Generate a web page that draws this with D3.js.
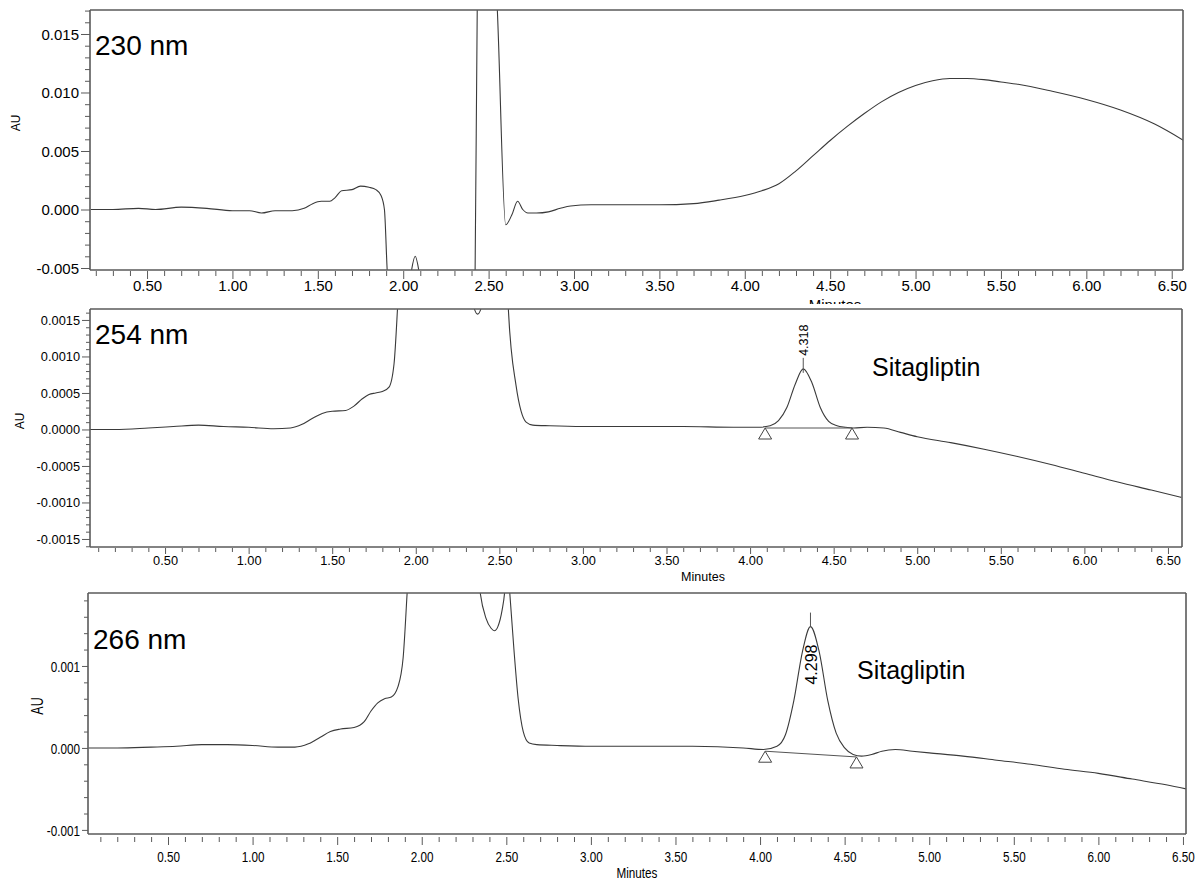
<!DOCTYPE html>
<html><head><meta charset="utf-8">
<script src="https://cdn.jsdelivr.net/npm/d3@7"></script>
<style>
body{margin:0;background:#fff}
svg{display:block}
text{font-family:"Liberation Sans",Arial,Helvetica,sans-serif;fill:#000}
</style>
</head><body>
<svg id="c" width="1200" height="882"></svg>
<script>
// ---------------- DATA ----------------
// 230 nm trace (time in minutes, absorbance in AU)
const time230 = [0.17,0.30,0.45,0.55,0.70,0.85,1.00,1.10,1.17,1.25,1.35,1.42,1.47,1.52,1.57,1.60,1.64,1.70,1.75,1.80,1.84,1.87,1.89,1.91,1.95,2.02,2.045,2.07,2.095,2.12,2.20,2.35,2.42,2.435,2.50,2.548,2.60,2.635,2.67,2.70,2.73,2.78,2.85,2.92,2.98,3.10,3.30,3.50,3.70,3.85,4.00,4.10,4.20,4.30,4.40,4.50,4.60,4.70,4.80,4.90,5.00,5.10,5.20,5.30,5.40,5.50,5.60,5.80,6.00,6.20,6.40,6.57];
const au230 = [0.0000,0.0000,0.0001,0.0000,0.0002,0.0001,-0.0001,-0.0001,-0.0003,-0.0001,-0.0001,0.0001,0.0005,0.0007,0.0007,0.0010,0.0016,0.0017,0.0020,0.0019,0.0017,0.0012,0.0000,-0.0060,-0.0080,-0.0080,-0.0055,-0.0040,-0.0055,-0.0080,-0.0080,-0.0080,-0.0070,0.0200,0.0250,0.0180,-0.0013,-0.0005,0.0007,0.0000,-0.0003,-0.0003,-0.0002,0.0001,0.0003,0.0004,0.0004,0.0004,0.0005,0.0008,0.0012,0.0016,0.0022,0.0033,0.0046,0.0059,0.0071,0.0082,0.0092,0.0100,0.0106,0.0110,0.0112,0.0112,0.0111,0.0109,0.0107,0.0101,0.0094,0.0085,0.0073,0.0059];

// 254 nm trace
const time254 = [0.05,0.20,0.40,0.55,0.70,0.85,1.00,1.15,1.25,1.32,1.38,1.44,1.50,1.58,1.63,1.68,1.72,1.76,1.80,1.84,1.87,1.90,1.95,2.30,2.345,2.37,2.395,2.45,2.53,2.555,2.60,2.63,2.66,2.70,2.80,3.00,3.30,3.60,3.90,4.05,4.12,4.17,4.22,4.27,4.318,4.37,4.42,4.47,4.52,4.57,4.62,4.70,4.80,4.90,5.00,5.20,5.40,5.60,5.80,6.00,6.20,6.40,6.58];
const au254 = [0,0,0.00002,0.00004,0.00006,0.00004,0.00003,0.00001,0.00002,0.00007,0.00015,0.00022,0.00025,0.00026,0.00032,0.00042,0.00048,0.00050,0.00052,0.00058,0.0009,0.0020,0.0030,0.0030,0.0017,0.00158,0.0017,0.0030,0.0030,0.0016,0.0006,0.00025,0.00010,0.00006,0.00005,0.00004,0.00004,0.00004,0.00003,0.00003,0.00005,0.00012,0.00030,0.00062,0.00083,0.00064,0.00030,0.00011,0.00005,0.00003,0.00002,0.00003,0.00002,-0.00004,-0.00010,-0.00018,-0.00027,-0.00037,-0.00048,-0.00060,-0.00072,-0.00083,-0.00093];

// 266 nm trace
const time266 = [0.03,0.20,0.40,0.55,0.70,0.85,1.00,1.15,1.25,1.33,1.40,1.46,1.52,1.60,1.66,1.70,1.74,1.78,1.82,1.86,1.89,1.92,1.96,2.30,2.345,2.38,2.41,2.43,2.45,2.475,2.49,2.505,2.52,2.545,2.57,2.60,2.635,2.68,2.80,3.00,3.30,3.60,3.90,4.02,4.10,4.15,4.20,4.25,4.298,4.35,4.40,4.45,4.50,4.55,4.60,4.66,4.72,4.80,4.90,5.00,5.20,5.40,5.60,5.80,6.00,6.20,6.40,6.52];
const au266 = [0.00000,0.00000,0.00001,0.00002,0.00004,0.00004,0.00003,0.00001,0.00001,0.00005,0.00013,0.00020,0.00023,0.00025,0.00032,0.00045,0.00055,0.00060,0.00062,0.00075,0.00110,0.00210,0.00300,0.00300,0.00190,0.00158,0.00146,0.00143,0.00148,0.00168,0.00190,0.00240,0.00190,0.00120,0.00060,0.00020,0.00006,0.00004,0.00003,0.00002,0.00002,0.00002,0.00000,-0.00002,0.00002,0.00016,0.00058,0.00117,0.00148,0.00117,0.00058,0.00018,0.00000,-0.00008,-0.00010,-0.00008,-0.00004,-0.00002,-0.00004,-0.00006,-0.00010,-0.00015,-0.00020,-0.00026,-0.00031,-0.00038,-0.00045,-0.00050];

// Integrated peaks: apex time/height and baseline start/end (time, AU)
const peak254 = {apex:[4.318,0.00083], label:"4.318", start:[4.09,0.00002], end:[4.61,0.00002]};
const peak266 = {apex:[4.298,0.00148], label:"4.298", start:[4.03,-0.00004], end:[4.57,-0.00011]};

// Ticks
const xMajorTicks = [0.5,1.0,1.5,2.0,2.5,3.0,3.5,4.0,4.5,5.0,5.5,6.0,6.5];
const yTicks230 = [-0.005,0.000,0.005,0.010,0.015];
const yTicks254 = [-0.0015,-0.0010,-0.0005,0.0000,0.0005,0.0010,0.0015];
const yTicks266 = [-0.001,0.000,0.001];

// Texts
const wavelengths = ["230 nm","254 nm","266 nm"];
const compoundName = "Sitagliptin";
const xTitle = "Minutes";
const yTitle = "AU";

// ---------------- DRAWING ----------------
const svg = d3.select("#c");
svg.append("rect").attr("width",1200).attr("height",882).attr("fill","#fff");
const AX = "#5a5a5a";
const TR = "#3a3a3a";

function minorRange(lo, hi, step){
  const out=[]; const n=Math.round((hi-lo)/step);
  for(let i=0;i<=n;i++) out.push(+(lo+i*step).toFixed(6));
  return out;
}

function drawPanel(o){
  const g = svg.append("g");
  const x = d3.scaleLinear().domain(o.xDom).range([o.left,o.right]);
  const y = d3.scaleLinear().domain(o.yDom).range([o.bottom,o.top]);
  const cid = "clip"+o.id;
  g.append("clipPath").attr("id",cid).append("rect")
    .attr("x",o.left).attr("y",o.top).attr("width",o.right-o.left).attr("height",o.bottom-o.top);

  // trace
  const pts = d3.zip(o.times,o.vals);
  g.append("path").datum(pts).attr("clip-path",`url(#${cid})`)
    .attr("fill","none").attr("stroke",TR).attr("stroke-width",1.1)
    .attr("d",d3.line().x(d=>x(d[0])).y(d=>y(d[1])).curve(d3.curveMonotoneX));

  // x axis minor & major
  const xMinor = minorRange(0.1,6.5,0.1).filter(v=>v>=o.xDom[0]&&v<=o.xDom[1]&&Math.abs(v*2-Math.round(v*2))>1e-6);
  const xa = g.append("g").attr("transform",`translate(0,${o.bottom+o.xGap})`)
    .call(d3.axisBottom(x).tickValues(xMinor).tickSize(o.xMin).tickFormat(""));
  xa.select(".domain").remove();
  xa.selectAll("line").attr("stroke",AX);
  const xb = g.append("g").attr("transform",`translate(0,${o.bottom+o.xGap})`)
    .call(d3.axisBottom(x).tickValues(xMajorTicks).tickSize(o.xMaj).tickFormat(d=>d.toFixed(2)));
  xb.select(".domain").remove();
  xb.selectAll("line").attr("stroke",AX);
  xb.selectAll("text").attr("y",o.xLabY).attr("dy","0.71em")
    .style("font-size",o.xFont+"px").style("fill","#000")
    .attr("transform",o.cond?`scale(${o.cond},1)`:null);

  // y axis minor & major
  const ya = g.append("g").attr("transform",`translate(${o.left},0)`)
    .call(d3.axisLeft(y).tickValues(o.yMinor).tickSize(o.yMin).tickFormat(""));
  ya.select(".domain").remove();
  ya.selectAll("line").attr("stroke",AX);
  const yb = g.append("g").attr("transform",`translate(${o.left},0)`)
    .call(d3.axisLeft(y).tickValues(o.yTicks).tickSize(o.yMaj).tickFormat(d=>d.toFixed(o.yDec)));
  yb.select(".domain").remove();
  yb.selectAll("line").attr("stroke",AX);
  yb.selectAll("text").attr("x",-(o.yMaj+2)/(o.cond||1)).attr("dy","0.35em")
    .style("font-size",o.yFont+"px").style("fill","#000")
    .attr("transform",o.cond?`scale(${o.cond},1)`:null);

  // frame
  const fr = g.append("g").attr("stroke",AX).attr("stroke-width",1.6).attr("fill","none");
  fr.append("line").attr("x1",o.left).attr("x2",o.right).attr("y1",o.top).attr("y2",o.top);
  fr.append("line").attr("x1",o.left).attr("x2",o.right).attr("y1",o.bottom).attr("y2",o.bottom);
  fr.append("line").attr("x1",o.left).attr("x2",o.left).attr("y1",o.top).attr("y2",o.bottom);
  fr.append("line").attr("x1",o.right).attr("x2",o.right).attr("y1",o.top).attr("y2",o.bottom);

  // titles
  g.append("text").attr("x",o.left+5).attr("y",o.nmY).style("font-size","28px").text(o.nm);
  const xt = g.append("text").attr("text-anchor","middle").style("font-size",o.xtFont+"px").text(xTitle);
  if(o.cond){ xt.attr("transform",`translate(${o.xtX},${o.xtY}) scale(${o.cond},1)`); }
  else { xt.attr("x",o.xtX).attr("y",o.xtY); }
  g.append("text").attr("text-anchor","middle")
    .attr("transform",`translate(${o.auX},${o.auY}) rotate(-90)`+(o.cond?` scale(${o.cond},1)`:""))
    .style("font-size",o.auFont+"px").text(yTitle);

  return {g,x,y,cid};
}

// Panel 1: 230 nm
const p1 = drawPanel({id:"a", left:90,right:1183,top:10,bottom:270,
  xDom:[0.166,6.566], yDom:[-0.00517,0.01705],
  times:time230, vals:au230,
  yTicks:yTicks230, yMinor:minorRange(-0.005,0.017,0.001).filter(v=>!yTicks230.some(t=>Math.abs(t-v)<1e-9)),
  yDec:3, yMaj:9, yMin:5, yFont:15, xMaj:8, xMin:5, xGap:1, xLabY:9, xFont:15,
  nm:wavelengths[0], nmY:55, xtX:835, xtY:310, xtFont:15, auX:20, auY:123, auFont:12});

// white band that covers the lower part of panel-1 x-title (as in the original montage)
svg.append("rect").attr("x",0).attr("y",304).attr("width",1200).attr("height",20).attr("fill","#fff");

// Panel 2: 254 nm
const p2 = drawPanel({id:"b", left:90,right:1182,top:309,bottom:547,
  xDom:[0.051,6.584], yDom:[-0.00161,0.00165],
  times:time254, vals:au254,
  yTicks:yTicks254, yMinor:minorRange(-0.0016,0.0016,0.0001).filter(v=>!yTicks254.some(t=>Math.abs(t-v)<1e-9)),
  yDec:4, yMaj:8, yMin:4, yFont:12.8, xMaj:6, xMin:4, xGap:1, xLabY:8, xFont:12.8,
  nm:wavelengths[1], nmY:344, xtX:703, xtY:581, xtFont:12.5, auX:24, auY:421, auFont:12});

// Panel 3: 266 nm
const p3 = drawPanel({id:"c", left:88,right:1186,top:593,bottom:834,
  xDom:[0.027,6.518], yDom:[-0.00105,0.00189],
  times:time266, vals:au266,
  yTicks:yTicks266, yMinor:minorRange(-0.001,0.0018,0.0002).filter(v=>!yTicks266.some(t=>Math.abs(t-v)<1e-9)),
  yDec:3, yMaj:6, yMin:4, yFont:15, xMaj:8, xMin:5, xGap:3, xLabY:14, xFont:15, cond:0.78,
  nm:wavelengths[2], nmY:649, xtX:637, xtY:878, xtFont:15, auX:43, auY:706, auFont:16});

// compound names
p2.g.append("text").attr("x",872).attr("y",376).style("font-size","25px").text(compoundName);
p3.g.append("text").attr("x",857).attr("y",679).style("font-size","25px").text(compoundName);

// peak annotations
function drawPeak(p, pk, opt){
  const {g,x,y,cid} = p;
  const ax = x(pk.apex[0]), ay = y(pk.apex[1]);
  // baseline
  g.append("line").attr("clip-path",`url(#${cid})`)
    .attr("x1",x(pk.start[0])).attr("y1",y(pk.start[1]))
    .attr("x2",x(pk.end[0])).attr("y2",y(pk.end[1]))
    .attr("stroke","#555").attr("stroke-width",1);
  // triangles
  [pk.start,pk.end].forEach(s=>{
    const sx=x(s[0]), sy=y(s[1]);
    g.append("path").attr("d",`M${sx},${sy}L${sx-6.5},${sy+11}L${sx+6.5},${sy+11}Z`)
      .attr("fill","#fff").attr("stroke","#444").attr("stroke-width",1);
  });
  // apex tick
  g.append("line").attr("x1",ax).attr("x2",ax).attr("y1",ay+opt.tickBelow).attr("y2",ay-opt.tickAbove)
    .attr("stroke","#555").attr("stroke-width",1);
  // label
  g.append("text").attr("transform",`translate(${ax+opt.dx},${ay+opt.labOff}) rotate(-90)`)
    .attr("dy","0.35em").style("font-size",opt.font+"px").text(pk.label);
}
drawPeak(p2, peak254, {tickAbove:11, tickBelow:4, labOff:-13, dx:0, font:12.5});
drawPeak(p3, peak266, {tickAbove:14, tickBelow:0, labOff:58, dx:1, font:16});
</script>
</body></html>
